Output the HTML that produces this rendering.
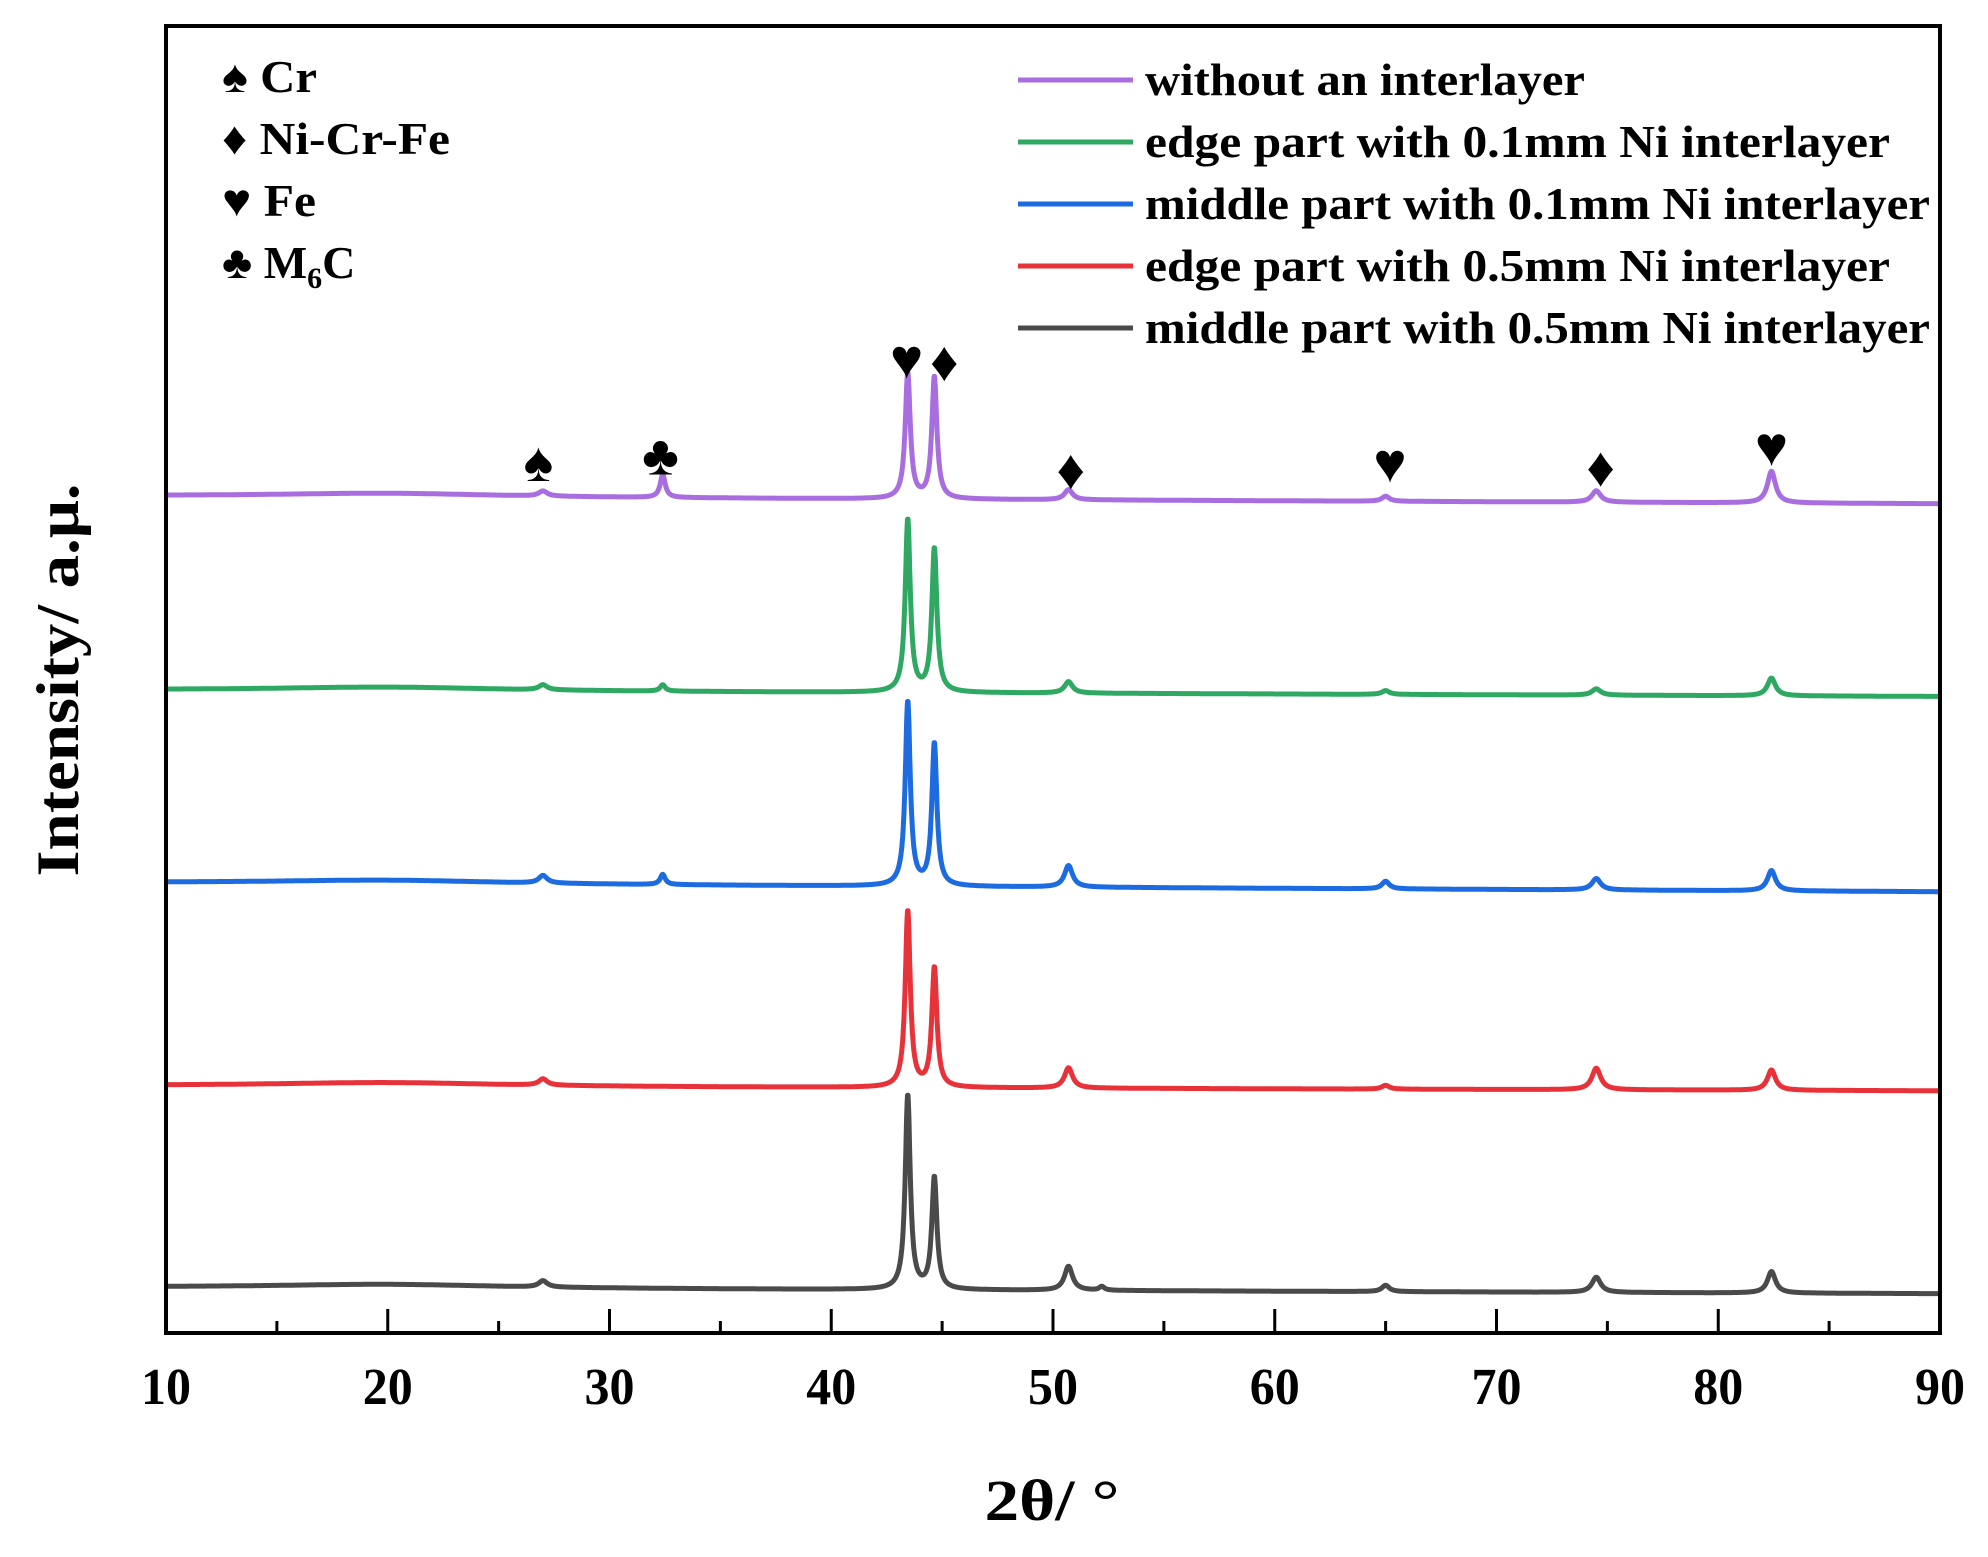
<!DOCTYPE html>
<html><head><meta charset="utf-8"><style>
html,body{margin:0;padding:0;background:#fff}
svg{display:block}
text{font-family:"Liberation Serif","DejaVu Serif",serif;font-weight:bold;fill:#000}
</style></head>
<body>
<svg id="chart" width="1988" height="1557" viewBox="0 0 1988 1557">
<g id="series"></g>
<g id="markers"></g>
<rect x="166" y="26" width="1774" height="1307" fill="none" stroke="#000" stroke-width="4"/>
<g id="xticks"></g>
<text x="1052" y="1520" font-size="58" text-anchor="middle" textLength="135" lengthAdjust="spacingAndGlyphs">2θ/ °</text>
<text transform="translate(78,680) rotate(-90)" font-size="60" text-anchor="middle" textLength="393" lengthAdjust="spacingAndGlyphs">Intensity/ a.μ.</text>
<g>
<text x="222" y="92" font-size="46" textLength="95" lengthAdjust="spacingAndGlyphs">♠ Cr</text>
<text x="222" y="154" font-size="46" textLength="228" lengthAdjust="spacingAndGlyphs">♦ Ni-Cr-Fe</text>
<text x="222" y="216" font-size="46" textLength="94" lengthAdjust="spacingAndGlyphs">♥ Fe</text>
<text x="222" y="278" font-size="46">♣ M<tspan font-size="30" dy="10">6</tspan><tspan dy="-10">C</tspan></text>
</g>
<g id="legend"></g>
</svg>
<script>
const NS="http://www.w3.org/2000/svg";
const xMin=10,xMax=90,pxL=166,pxR=1940,pxBottom=1333,unitPx=1.268;
const xTicks=[10,20,30,40,50,60,70,80,90];
const xMinor=[15,25,35,45,55,65,75,85];
const seriesNames=["without an interlayer","edge part with 0.1mm Ni interlayer","middle part with 0.1mm Ni interlayer","edge part with 0.5mm Ni interlayer","middle part with 0.5mm Ni interlayer"];
const seriesColors=["#a86ee0","#2ea862","#1c6be0","#e8323a","#4a4a4a"];
const peakPos=[20,27,32.4,43.45,44.65,50.7,52.2,65.0,74.5,82.4];
const peakWidth=[7,0.25,0.15,0.15,0.15,0.24,0.15,0.22,0.26,0.24];
const baseStart=[660,507,355,195,36];
const baseEnd=[654,502,348,191,31];
const hPurple=[3,4,18,99,96,8,0,4,9,25];
const hGreen=[3,4,5,136,113,9,0,3,5,14];
const hBlue=[3,6,8,145,112,17,0,6,9,16];
const hRed=[3,5,0,139,94,16,0,3,17,16];
const hGray=[3,5,0,153,88,19,3,5,12,17];
const heights=[hPurple,hGreen,hBlue,hRed,hGray];
const markerSym=["♠","♣","♥","♦","♦","♥","♦","♥"];
const markerX=[26.8,32.3,43.4,45.1,50.8,65.2,74.7,82.4];
const markerH=[672,677,753,751,666,671,668,684];
function X(v){return pxL+(v-xMin)/(xMax-xMin)*(pxR-pxL);}
function Y(v){return pxBottom-v*unitPx;}
const sg=document.getElementById('series');
for(let s=0;s<5;s++){
  let d="";
  for(let x=xMin;x<=xMax+1e-9;x+=0.02){
    let v=baseStart[s]+(baseEnd[s]-baseStart[s])*(x-xMin)/(xMax-xMin);
    for(let k=0;k<peakPos.length;k++){const w=peakWidth[k];const t=(x-peakPos[k])/w;v+=heights[s][k]/(1+t*t*1.2);}
    d+=(d?"L":"M")+X(x).toFixed(1)+","+Y(v).toFixed(1);
  }
  const p=document.createElementNS(NS,'path');
  p.setAttribute('d',d);p.setAttribute('fill','none');p.setAttribute('stroke',seriesColors[s]);
  p.setAttribute('stroke-width','5');p.setAttribute('stroke-linejoin','round');
  
  
  sg.appendChild(p);
}
const xg=document.getElementById('xticks');
xTicks.forEach(t=>{
  const l=document.createElementNS(NS,'line');
  l.setAttribute('x1',X(t));l.setAttribute('x2',X(t));l.setAttribute('y1',pxBottom);l.setAttribute('y2',pxBottom-24);
  l.setAttribute('stroke','#000');l.setAttribute('stroke-width','3');
  
  
  xg.appendChild(l);
  const tx=document.createElementNS(NS,'text');
  tx.setAttribute('x',X(t));tx.setAttribute('y',1404);tx.setAttribute('font-size','52');tx.setAttribute('text-anchor','middle');
  tx.setAttribute('textLength','50');tx.setAttribute('lengthAdjust','spacingAndGlyphs');
  tx.textContent=t;
  
  
  xg.appendChild(tx);
});
xMinor.forEach(t=>{
  const l=document.createElementNS(NS,'line');
  l.setAttribute('x1',X(t));l.setAttribute('x2',X(t));l.setAttribute('y1',pxBottom);l.setAttribute('y2',pxBottom-12);
  l.setAttribute('stroke','#000');l.setAttribute('stroke-width','3');
  
  
  xg.appendChild(l);
});
const mg=document.getElementById('markers');
markerSym.forEach((m,i)=>{
  const tx=document.createElementNS(NS,'text');
  tx.setAttribute('x',X(markerX[i]));tx.setAttribute('y',Y(markerH[i]));tx.setAttribute('font-size','56');tx.setAttribute('text-anchor','middle');
  tx.textContent=m;
  
  
  mg.appendChild(tx);
});
const lg=document.getElementById('legend');
const legY=[80,142,204,266,328];
const legW=[440,745,785,745,785];
seriesNames.forEach((n,i)=>{
  const l=document.createElementNS(NS,'line');
  l.setAttribute('x1',1018);l.setAttribute('x2',1133);l.setAttribute('y1',legY[i]);l.setAttribute('y2',legY[i]);
  l.setAttribute('stroke',seriesColors[i]);l.setAttribute('stroke-width','5');
  
  
  lg.appendChild(l);
  const tx=document.createElementNS(NS,'text');
  tx.setAttribute('x',1145);tx.setAttribute('y',legY[i]+15);tx.setAttribute('font-size','46');
  tx.setAttribute('textLength',legW[i]);tx.setAttribute('lengthAdjust','spacingAndGlyphs');
  tx.textContent=n;
  
  
  lg.appendChild(tx);
});
</script>
</body></html>
